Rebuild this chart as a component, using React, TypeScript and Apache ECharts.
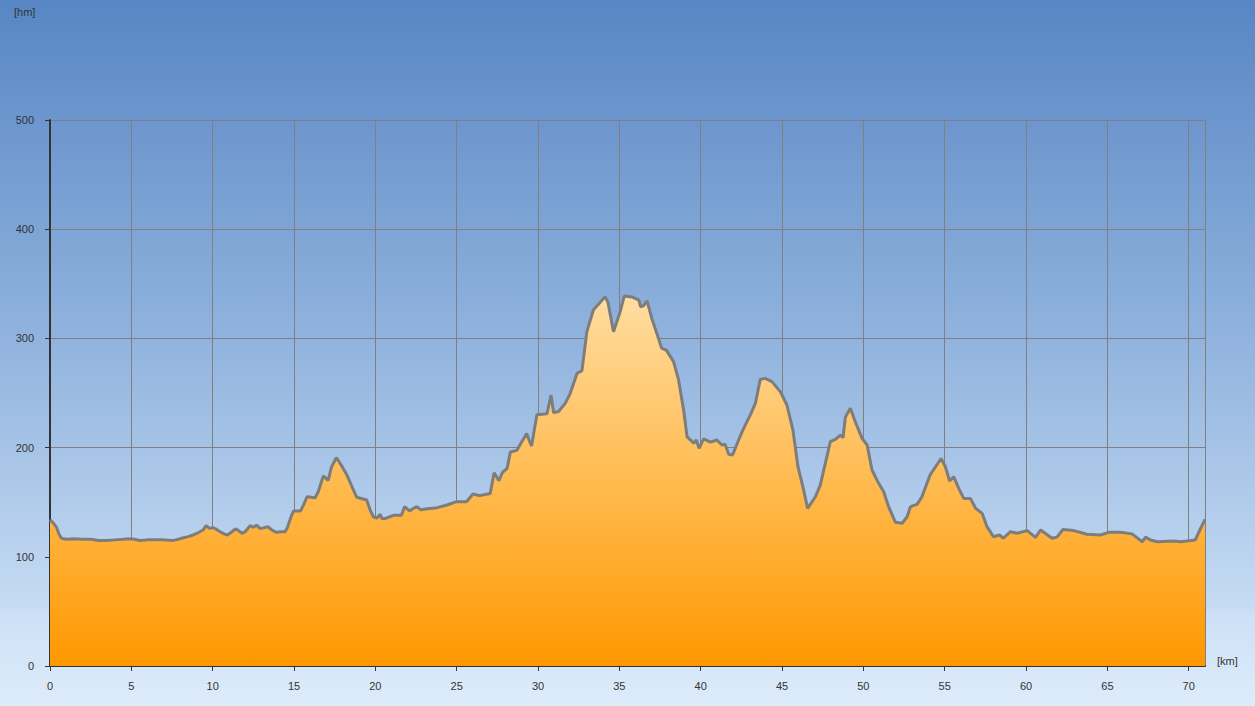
import React, { useEffect, useRef } from "react";
import * as echarts from "echarts";

const distanceKm = [
  0.0, 0.2, 0.4, 0.55, 0.7, 1.0, 1.5, 2.0, 2.5, 3.0, 3.5, 4.0, 4.5, 4.9, 5.2, 5.5, 6.0, 6.5, 7.0, 7.6,
  8.0, 8.2, 8.5, 8.8, 9.1, 9.4, 9.6, 9.8, 10.0, 10.2, 10.45, 10.7, 10.9, 11.1, 11.4, 11.6, 11.8, 12.0, 12.3, 12.5,
  12.7, 12.9, 13.1, 13.4, 13.6, 13.9, 14.2, 14.45, 14.6, 14.8, 14.97, 15.4, 15.6, 15.8, 16.3, 16.5, 16.8, 17.1, 17.3, 17.6,
  17.9, 18.25, 18.6, 18.86, 19.47, 19.7, 19.88, 20.1, 20.3, 20.4, 20.6, 21.1, 21.6, 21.8, 22.1, 22.3, 22.55, 22.8, 23.2, 23.8,
  24.4, 25.0, 25.6, 26.0, 26.4, 27.06, 27.3, 27.6, 27.8, 28.1, 28.3, 28.7, 29.0, 29.2, 29.3, 29.45, 29.6, 29.93, 30.55, 30.8,
  30.96, 31.26, 31.67, 31.98, 32.4, 32.7, 33.0, 33.4, 33.93, 34.13, 34.3, 34.64, 35.05, 35.3, 35.77, 36.2, 36.3, 36.5, 36.7, 37.0,
  37.3, 37.6, 37.9, 38.33, 38.64, 38.95, 39.16, 39.57, 39.73, 39.9, 40.18, 40.6, 41.0, 41.3, 41.5, 41.72, 41.96, 42.33, 42.64, 43.05,
  43.36, 43.66, 43.97, 44.38, 44.9, 45.3, 45.67, 45.98, 46.33, 46.57, 47.05, 47.35, 47.66, 47.97, 48.28, 48.59, 48.75, 48.89, 49.2, 49.5,
  49.92, 50.23, 50.53, 50.94, 51.25, 51.55, 51.97, 52.38, 52.69, 52.89, 53.3, 53.6, 54.1, 54.78, 55.04, 55.3, 55.55, 55.86, 56.17, 56.58,
  56.9, 57.3, 57.6, 58.0, 58.36, 58.6, 59.04, 59.45, 60.07, 60.58, 60.9, 61.6, 61.9, 62.27, 62.93, 63.75, 64.57, 65.08, 65.8, 66.52,
  67.14, 67.35, 67.65, 68.06, 69.08, 69.5, 70.4, 70.7, 71.0,
];

const elevationHm = [
  134, 131, 127, 121, 117, 116, 116.5, 116, 116, 115, 115, 115.5, 116, 116.5, 116, 115, 115.5, 115.5, 115.5, 115,
  116.5, 117.5, 118.5, 120, 122, 124.5, 128.5, 126, 126.7, 125.5, 123, 121, 120, 122, 125.5, 124, 121.5, 123, 128.5, 127,
  129, 126, 126.5, 127.5, 125, 122.4, 123, 123, 127, 136, 142, 142, 148, 155, 154, 160, 174, 170, 182, 190.8,
  184, 175, 163, 154.5, 152, 142, 136.7, 135.5, 139, 135, 135, 138, 138, 146, 142, 144, 146, 143, 144, 145,
  147.4, 150.5, 150.5, 157.5, 156, 158, 177, 169.7, 177, 181, 196, 197.5, 205.4, 210, 213, 207, 201.5, 230, 231, 248,
  232, 233, 240.5, 249.7, 268, 270.5, 306, 326, 335, 338, 333, 306, 324.5, 338.8, 338, 335, 329, 330, 334.5, 318,
  304.6, 291, 289, 278.7, 262, 234.4, 210, 204, 207, 199.3, 208, 205, 207, 202.4, 203, 193.8, 193.3, 207, 217.6, 230,
  240.5, 262.5, 263.4, 260.4, 251, 239, 216, 182.5, 161, 144.4, 155, 165.7, 185.6, 205.4, 207.5, 211.5, 209, 227.7, 236, 223.7,
  208.5, 202.4, 179.5, 167.3, 159.6, 145.9, 131.6, 130.7, 136.7, 145.9, 148, 155, 175, 190, 182.5, 169.4, 173.4, 162.7, 153.5, 153.5,
  144.4, 139.8, 127.6, 118.4, 120, 117, 123, 121.5, 124, 117.8, 124.6, 117, 118, 125, 124, 120.6, 120, 122.4, 122.4, 121,
  113.8, 118, 115.4, 113.8, 114.4, 113.8, 115.4, 125, 134.3,
];

const xMin = 0;
const xMax = 71;
const xStep = 5;
const yMin = 0;
const yMax = 500;
const yStep = 100;

export default function App() {
  const ref = useRef<HTMLDivElement>(null);

  useEffect(() => {
    if (!ref.current) return;
    const chart = echarts.init(ref.current, undefined, { renderer: "svg" });
    const data = distanceKm.map((d, i) => [d, elevationHm[i]]);
    const labelFont = "Arial, 'Liberation Sans', sans-serif";
    chart.setOption({
      animation: false,
      backgroundColor: new echarts.graphic.LinearGradient(0, 0, 0, 1, [
        { offset: 0, color: "#5886c4" },
        { offset: 0.5, color: "#93b5df" },
        { offset: 0.86, color: "#c6dbf3" },
        { offset: 0.87, color: "#cde0f6" },
        { offset: 1, color: "#ddecfb" },
      ]),
      grid: { left: 50, right: 50, top: 120, bottom: 40, containLabel: false },
      graphic: [
        {
          type: "text",
          left: 14,
          top: 6,
          style: { text: "[hm]", fill: "#333", font: `11px ${labelFont}` },
        },
        {
          type: "text",
          left: 1217,
          top: 655,
          style: { text: "[km]", fill: "#333", font: `11px ${labelFont}` },
        },
      ],
      xAxis: {
        type: "value",
        min: xMin,
        max: xMax,
        interval: xStep,
        axisLine: { show: true, onZero: false, lineStyle: { color: "#333", width: 2 } },
        axisTick: { show: true, length: 5, lineStyle: { color: "#333", width: 1 } },
        axisLabel: {
          color: "#333",
          fontSize: 11,
          fontFamily: labelFont,
          margin: 14,
          showMaxLabel: false,
        },
        splitLine: { show: true, lineStyle: { color: "#808080", width: 1 } },
      },
      yAxis: {
        type: "value",
        min: yMin,
        max: yMax,
        interval: yStep,
        axisLine: { show: true, lineStyle: { color: "#333", width: 2 } },
        axisTick: { show: true, length: 5, lineStyle: { color: "#333", width: 1 } },
        axisLabel: { color: "#333", fontSize: 11, fontFamily: labelFont, margin: 16 },
        splitLine: { show: true, lineStyle: { color: "#808080", width: 1 } },
      },
      series: [
        {
          type: "line",
          data,
          showSymbol: false,
          smooth: false,
          lineStyle: { color: "#7d7d7d", width: 3 },
          areaStyle: {
            opacity: 1,
            color: new echarts.graphic.LinearGradient(0, 0, 0, 1, [
              { offset: 0, color: "#ffdda0" },
              { offset: 1, color: "#ff9800" },
            ]),
          },
          z: 3,
        },
      ],
    });
    return () => chart.dispose();
  }, []);

  return (
    <div
      ref={ref}
      style={{ position: "fixed", left: 0, top: 0, width: 1255, height: 706 }}
    />
  );
}
